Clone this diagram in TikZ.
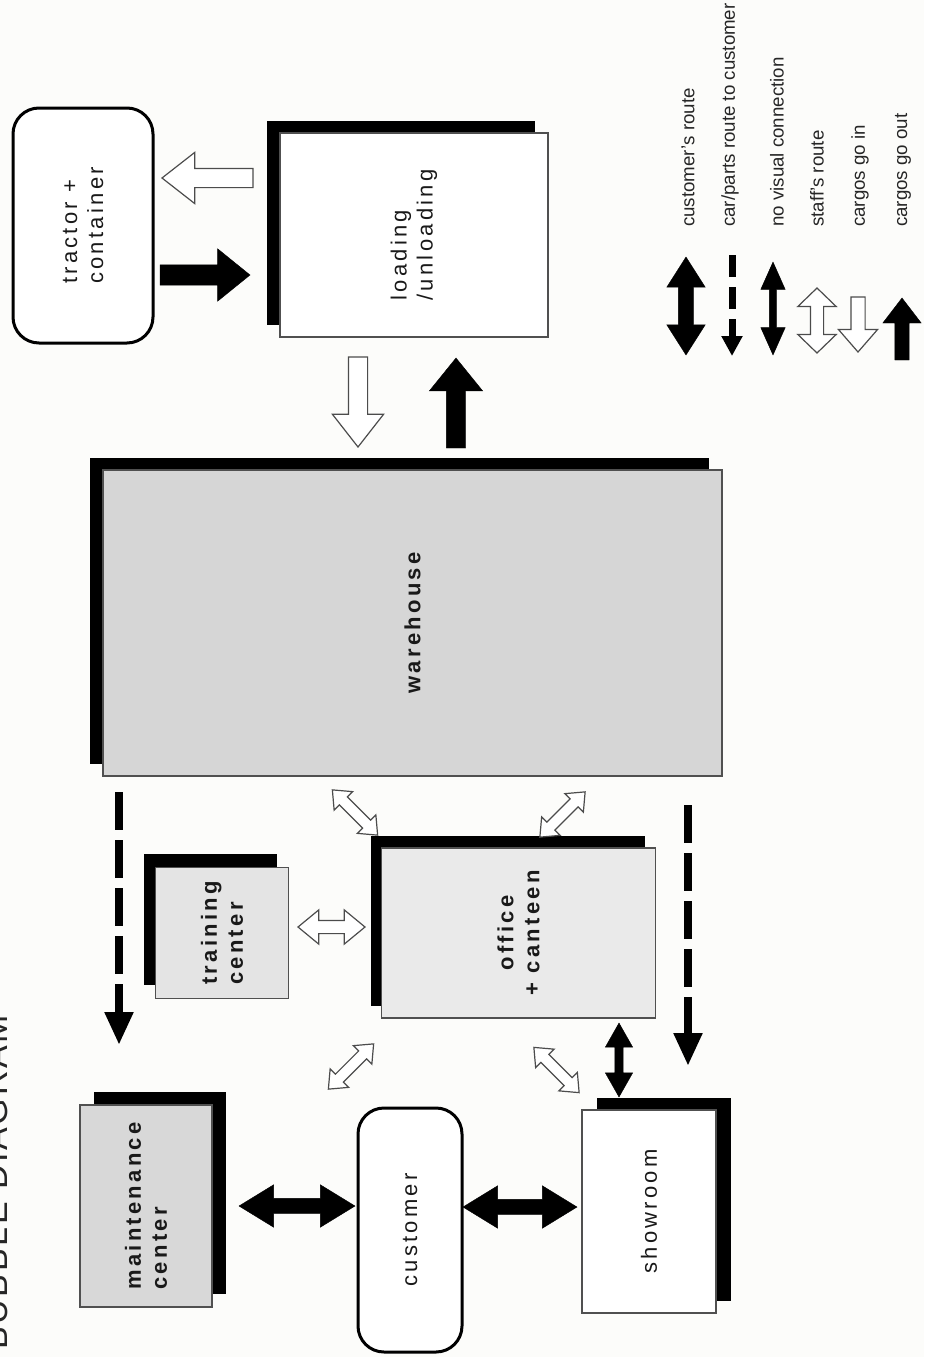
\documentclass[tikz,border=0pt]{standalone}
\usepackage{fontspec}
\setmainfont{Liberation Sans}
\newfontfamily\lblfont[LetterSpace=15]{Liberation Sans}
\newfontfamily\ttlfont[LetterSpace=8]{Liberation Sans}
\usetikzlibrary{shapes.arrows,shadows,arrows.meta}
\definecolor{paper}{HTML}{FCFCFA}
\definecolor{gA}{HTML}{D6D6D6}
\definecolor{gB}{HTML}{D8D8D8}
\definecolor{gC}{HTML}{E4E4E4}
\definecolor{gD}{HTML}{EAEAEA}
\definecolor{edge}{HTML}{505050}
\begin{document}
\begin{tikzpicture}[x=1pt,y=1pt,
  box/.style={draw=edge, line width=1.4pt, inner sep=0pt, outer sep=0pt},
  rbox/.style={draw=black, line width=3pt, rounded corners=26pt, fill=white, inner sep=0pt, outer sep=0pt},
  shad/.style 2 args={drop shadow={shadow xshift=#1pt, shadow yshift=#2pt, opacity=1, fill=black}},
  lbl/.style={font=\lblfont\fontsize{22}{26}\selectfont, rotate=90, inner sep=0pt, text=black!90},
  lblb/.style={font=\lblfont\bfseries\fontsize{22}{26}\selectfont, rotate=90, inner sep=0pt, text=black!90},
  hol/.style={draw=black!70, fill=white, line width=1.2pt, inner xsep=0pt, outer sep=0pt},
  blk/.style={draw=black, fill=black, line width=0.4pt, inner xsep=0pt, outer sep=0pt},
  sarr/.style n args={4}{single arrow, minimum height=#1, minimum width=#2, inner ysep=#3/2, single arrow head extend={(#2-#3)/2}, single arrow tip angle=#4, anchor=tail},
  darr/.style n args={4}{double arrow, minimum height=#1, minimum width=#2, inner ysep=#3/2, double arrow head extend={(#2-#3)/2}, double arrow tip angle=#4},
  dasharr/.style={draw=black, line width=8pt, dash pattern=on 38pt off 10pt, -{Triangle[length=33pt, width=27pt]}},
  legdash/.style={draw=black, line width=7pt, dash pattern=on 22pt off 10pt, -{Triangle[length=20pt, width=20pt]}},
  legtxt/.style={font=\fontsize{18.7}{22}\selectfont, rotate=90, anchor=west, inner sep=0pt, text=black!85}
]
\fill[paper] (0,0) rectangle (924,-1357);
\useasboundingbox (0,0) rectangle (924,-1357);

% title
\node[font=\ttlfont\fontsize{34}{40}\selectfont, rotate=90, anchor=base west, inner sep=0pt, text=black!85] (title) at (7,-1350) {BUBBLE DIAGRAM};

% boxes
\node[rbox, minimum width=140, minimum height=235,
  label={[lbl, align=left]center:{tractor +\\container}}] (tractor) at (83,-225.5) {};
\node[box, fill=white, minimum width=268, minimum height=204, shad={-13}{12},
  label={[lbl, align=left]center:{loading\\/unloading}}] (load) at (414,-235) {};
\node[box, fill=gA, minimum width=619, minimum height=306, shad={-13}{12},
  label={[lblb]center:warehouse}] (ware) at (412.5,-623) {};
\node[box, fill=gC, minimum width=133, minimum height=131, shad={-12}{14},
  label={[lblb, align=left]center:{training\\center}}] (train) at (222,-933) {};
\node[box, fill=gD, minimum width=274, minimum height=170, shad={-11}{12},
  label={[lblb, align=center]center:{office\\+ canteen}}] (office) at (518.5,-933) {};
\node[box, fill=gB, minimum width=132, minimum height=202, shad={14}{13},
  label={[lblb, align=left]center:{maintenance\\center}}] (maint) at (146,-1206) {};
\node[rbox, minimum width=104, minimum height=244,
  label={[lbl]center:customer}] (cust) at (410,-1230) {};
\node[box, fill=white, minimum width=134, minimum height=203, shad={15}{12},
  label={[lbl]center:showroom}] (show) at (649,-1211.5) {};

% arrows between tractor / loading / warehouse (placed by their tails)
\node[hol, sarr={91}{50}{18}{76}, rotate=180] (tl) at (253,-178) {};
\node[blk, sarr={90}{52}{20}{78}] (tr) at (160,-275) {};
\node[hol, sarr={90}{50}{18}{76}, rotate=-90] (lw) at (358,-357) {};
\node[blk, sarr={90}{53}{19}{78}, rotate=90] (wl) at (456,-448) {};

% staff routes (hollow double arrows)
\node[hol, darr={64}{25}{10}{80}, rotate=-45] (s1) at (355,-812.5) {};
\node[hol, darr={64}{25}{10}{80}, rotate=45] (s2) at (562.5,-814.5) {};
\node[hol, darr={64}{25}{10}{80}, rotate=45] (s3) at (351,-1066.5) {};
\node[hol, darr={64}{25}{10}{80}, rotate=-45] (s4) at (556.5,-1070) {};
\node[hol, darr={67}{33}{12}{79}] (s5) at (331.5,-927) {};

% black double arrows
\node[blk, darr={74}{27}{8}{59}, rotate=90] (os) at (619,-1060) {};
\node[blk, darr={116}{42}{15}{63}] (mc) at (297,-1206) {};
\node[blk, darr={114}{42}{15}{63}] (cs) at (520,-1207) {};

% car/parts routes
\coordinate (d1a) at (119,-792);
\coordinate (d1b) at (119,-1045);
\coordinate (d2a) at (688,-805);
\coordinate (d2b) at (688,-1066);
\draw[dasharr] (d1a) -- (d1b);
\draw[dasharr] (d2a) -- (d2b);

% legend
\node[blk, darr={98}{38}{15}{65}, rotate=90] (k1) at (686,-306) {};
\coordinate (k2a) at (732,-255);
\coordinate (k2b) at (732,-356);
\draw[legdash] (k2a) -- (k2b);
\node[blk, darr={93}{24}{7}{48}, rotate=90] (k3) at (773,-308.5) {};
\node[hol, darr={65}{37}{12}{92}, rotate=90] (k4) at (817,-320.5) {};
\node[hol, sarr={55}{38}{13}{82}, rotate=-90] (k5) at (858,-297) {};
\node[blk, sarr={62}{38}{14}{75}, rotate=90] (k6) at (902,-360) {};

\node[legtxt] (t1) at (688,-227) {customer's route};
\node[legtxt] (t2) at (730,-227) {car/parts route to customer};
\node[legtxt] (t3) at (777,-227) {no visual connection};
\node[legtxt] (t4) at (817,-227) {staff's route};
\node[legtxt] (t5) at (860,-227) {cargos go in};
\node[legtxt] (t6) at (903,-227) {cargos go out};
\end{tikzpicture}
\end{document}
